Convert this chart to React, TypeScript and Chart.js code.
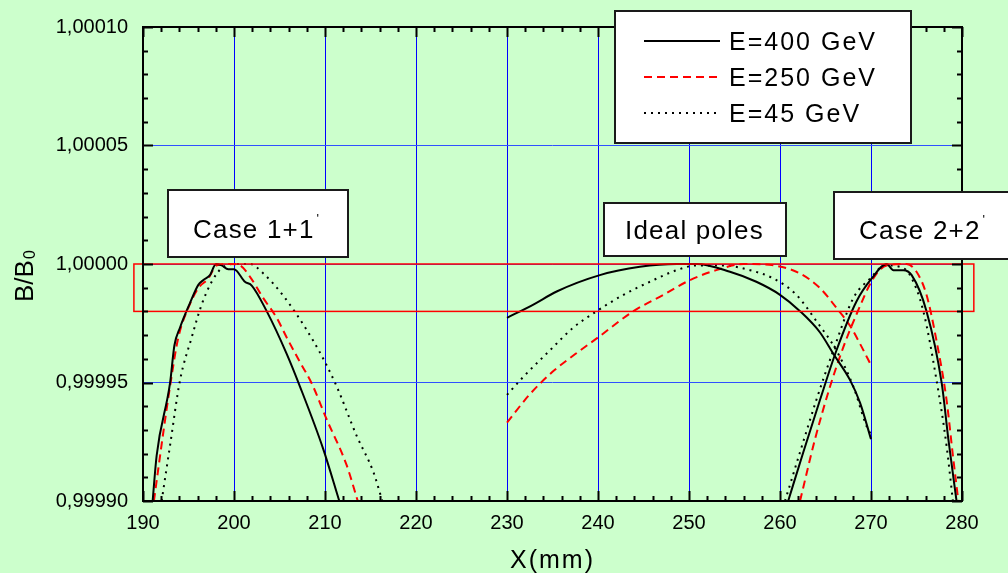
import React, { useEffect, useRef } from 'react';
import { Chart, registerables } from 'chart.js';

Chart.register(...registerables);

// ---------- axis ticks ----------
const X_TICKS = [190, 200, 210, 220, 230, 240, 250, 260, 270, 280];
const X_TICK_LABELS = ['190', '200', '210', '220', '230', '240', '250', '260', '270', '280'];
const Y_TICKS = [0.9999, 0.99995, 1.0, 1.00005, 1.0001];
const Y_TICK_LABELS = ['0,99990', '0,99995', '1,00000', '1,00005', '1,00010'];
const X_MINOR_STEP = 2;
const Y_MINOR_STEP = 0.00001;

// ---------- legend / annotation texts ----------
const SERIES_NAMES = ['E=400 GeV', 'E=250 GeV', 'E=45 GeV'];
const REGION_LABELS = ['Case 1+1', 'Ideal poles', 'Case 2+2'];
const X_TITLE = 'X(mm)';
const Y_TITLE = 'B/B';
const Y_TITLE_SUB = '0';

// tolerance band (red rectangle) in data units
const BAND_X = [189.0, 281.3];
const BAND_Y = [0.99998, 1.0];

// ---------- E = 400 GeV (solid) ----------
const E400_CASE1_X = [191.06, 191.5, 192.97, 193.45, 194.07, 195.16, 196.08, 196.63, 197.36, 198.02, 198.64, 199.37, 200.0, 201.2, 201.95, 203.59, 205.79, 207.25, 209.8, 211.57];
const E400_CASE1_Y = [0.9999, 0.9999192, 0.9999497, 0.9999656, 0.9999732, 0.9999835, 0.9999912, 0.9999932, 0.9999953, 1.0, 0.9999994, 0.9999978, 0.9999978, 0.9999925, 0.9999909, 0.9999801, 0.9999621, 0.9999483, 0.999922, 0.9999];
const E400_IDEAL_X = [230.0, 232.9, 235.46, 240.2, 244.6, 248.65, 250.85, 254.5, 257.4, 260.0, 262.2, 264.4, 265.86, 267.7, 268.8, 270.0];
const E400_IDEAL_Y = [0.9999773, 0.9999829, 0.9999884, 0.9999953, 0.9999988, 1.0, 1.0, 0.9999967, 0.9999925, 0.999987, 0.9999801, 0.9999711, 0.9999621, 0.999951, 0.9999414, 0.9999261];
const E400_CASE2_X = [260.9, 262.56, 264.4, 266.2, 268.4, 270.08, 271.73, 272.46, 273.55, 274.47, 276.1, 277.77, 278.5, 279.4];
const E400_CASE2_Y = [0.9999, 0.9999206, 0.9999427, 0.9999635, 0.9999842, 0.9999939, 1.0, 0.9999974, 0.9999974, 0.9999953, 0.9999801, 0.9999497, 0.9999261, 0.9999];

// ---------- E = 250 GeV (red dashed) ----------
const E250_CASE1_X = [191.2, 192.23, 192.97, 193.88, 194.98, 196.08, 197.18, 198.1, 199.56, 200.66, 201.76, 203.22, 204.69, 205.79, 207.25, 208.53, 210.19, 212.38, 213.6];
const E250_CASE1_Y = [0.9999, 0.9999289, 0.9999483, 0.999969, 0.9999815, 0.9999898, 0.9999939, 0.9999994, 1.0, 0.9999994, 0.9999946, 0.9999856, 0.9999773, 0.999969, 0.9999586, 0.9999497, 0.9999344, 0.9999151, 0.9999];
const E250_IDEAL_X = [230.0, 232.5, 235.0, 237.5, 240.0, 243.9, 247.2, 250.1, 253.0, 256.0, 259.3, 262.2, 264.4, 266.2, 267.7, 268.8, 270.0];
const E250_IDEAL_Y = [0.9999331, 0.999945, 0.9999545, 0.999962, 0.999969, 0.9999801, 0.999987, 0.9999932, 0.9999974, 1.0, 0.9999994, 0.999996, 0.9999898, 0.9999815, 0.9999739, 0.9999663, 0.9999573];
const E250_CASE2_X = [262.2, 263.85, 265.5, 266.96, 268.4, 270.25, 271.73, 273.9, 275.0, 276.1, 277.2, 278.3, 279.0, 279.6];
const E250_CASE2_Y = [0.9999, 0.9999261, 0.9999483, 0.9999649, 0.9999787, 0.9999939, 0.9999994, 1.0, 0.9999967, 0.999987, 0.9999676, 0.9999427, 0.9999192, 0.9999];

// ---------- E = 45 GeV (dotted) ----------
const E45_CASE1_X = [192.05, 192.97, 194.07, 195.35, 196.45, 197.55, 198.82, 200.29, 201.76, 203.22, 205.05, 206.89, 208.71, 210.0, 211.29, 213.48, 215.31, 216.3];
const E45_CASE1_Y = [0.9999, 0.9999234, 0.999951, 0.999969, 0.9999829, 0.9999925, 0.9999988, 1.0, 1.0, 0.999996, 0.9999884, 0.9999787, 0.9999676, 0.9999586, 0.9999483, 0.9999275, 0.9999123, 0.9999];
const E45_IDEAL_X = [230.0, 231.8, 234.7, 237.3, 239.86, 242.8, 245.7, 248.65, 250.85, 253.77, 256.7, 259.27, 261.8, 264.0, 266.2, 268.06, 269.5, 270.0];
const E45_IDEAL_Y = [0.9999448, 0.9999524, 0.9999635, 0.9999732, 0.9999801, 0.999987, 0.9999925, 0.9999974, 0.9999994, 0.9999994, 0.9999974, 0.9999939, 0.999987, 0.9999759, 0.9999635, 0.9999483, 0.9999317, 0.999928];
const E45_CASE2_X = [260.55, 262.2, 264.0, 265.86, 268.06, 269.9, 271.54, 273.2, 274.29, 275.75, 277.2, 278.3, 279.0];
const E45_CASE2_Y = [0.9999, 0.9999206, 0.9999427, 0.9999635, 0.9999856, 0.9999939, 0.9999994, 0.9999988, 0.9999953, 0.9999801, 0.999951, 0.9999234, 0.9999];

const FONT = '"Liberation Sans", Arial, Helvetica, sans-serif';
const BG = '#ccffcc';

type SeriesStyle = { color: string; dash: number[] };
const STYLES: SeriesStyle[] = [
  { color: '#000000', dash: [] },
  { color: '#ff0000', dash: [8, 5] },
  { color: '#000000', dash: [2, 5] },
];

function seg(xs: number[], ys: number[]) {
  return xs.map((x, i) => ({ x, y: ys[i] }));
}

function makeDataset(xs: number[], ys: number[], style: SeriesStyle) {
  return {
    data: seg(xs, ys),
    borderColor: style.color,
    borderWidth: 2,
    borderDash: style.dash,
    pointRadius: 0,
    fill: false,
    tension: 0,
    cubicInterpolationMode: 'monotone' as const,
  };
}

function drawBox(ctx: CanvasRenderingContext2D, x0: number, y0: number, x1: number, y1: number) {
  ctx.fillStyle = '#ffffff';
  ctx.fillRect(x0, y0, x1 - x0, y1 - y0);
  ctx.strokeStyle = '#1a1a1a';
  ctx.lineWidth = 2;
  ctx.setLineDash([]);
  ctx.strokeRect(x0, y0, x1 - x0, y1 - y0);
}

function drawText(ctx: CanvasRenderingContext2D, text: string, x: number, y: number, size: number, spacing: number) {
  ctx.font = `${size}px ${FONT}`;
  (ctx as any).letterSpacing = `${spacing}px`;
  ctx.fillStyle = '#000';
  ctx.textAlign = 'left';
  ctx.textBaseline = 'alphabetic';
  ctx.fillText(text, x, y);
  const w = ctx.measureText(text).width;
  (ctx as any).letterSpacing = '0px';
  return w;
}

const bgPlugin = {
  id: 'bgfill',
  beforeDraw(chart: any) {
    const { ctx, width, height } = chart;
    ctx.save();
    ctx.fillStyle = BG;
    ctx.fillRect(0, 0, width, height);
    ctx.restore();
  },
};

const overlayPlugin = {
  id: 'overlay',
  afterDatasetsDraw(chart: any) {
    const { ctx, chartArea: a } = chart;
    const xs = chart.scales.x;
    const ys = chart.scales.y;
    ctx.save();

    // red tolerance band
    const bx0 = xs.getPixelForValue(BAND_X[0]);
    const bx1 = xs.getPixelForValue(BAND_X[1]);
    const by0 = ys.getPixelForValue(BAND_Y[1]);
    const by1 = ys.getPixelForValue(BAND_Y[0]);
    ctx.strokeStyle = '#ff0000';
    ctx.lineWidth = 1.5;
    ctx.setLineDash([]);
    ctx.strokeRect(bx0, by0, bx1 - bx0, by1 - by0);

    // axis frame
    ctx.strokeStyle = '#000';
    ctx.lineWidth = 2;
    ctx.strokeRect(a.left, a.top, a.right - a.left, a.bottom - a.top);

    // inward ticks on all four sides
    ctx.beginPath();
    const xMin = X_TICKS[0];
    const xMax = X_TICKS[X_TICKS.length - 1];
    const nx = Math.round((xMax - xMin) / X_MINOR_STEP);
    for (let i = 0; i <= nx; i++) {
      const v = xMin + i * X_MINOR_STEP;
      const px = Math.round(xs.getPixelForValue(v)) + 0.5;
      const len = i % 5 === 0 ? 10 : 5;
      ctx.moveTo(px, a.bottom);
      ctx.lineTo(px, a.bottom - len);
      ctx.moveTo(px, a.top);
      ctx.lineTo(px, a.top + len);
    }
    const yMin = Y_TICKS[0];
    const yMax = Y_TICKS[Y_TICKS.length - 1];
    const ny = Math.round((yMax - yMin) / Y_MINOR_STEP);
    for (let i = 0; i <= ny; i++) {
      const v = yMin + i * Y_MINOR_STEP;
      const py = Math.round(ys.getPixelForValue(v)) + 0.5;
      const len = i % 5 === 0 ? 10 : 5;
      ctx.moveTo(a.left, py);
      ctx.lineTo(a.left + len, py);
      ctx.moveTo(a.right, py);
      ctx.lineTo(a.right - len, py);
    }
    ctx.stroke();

    // region labels
    const primeSize = 13;
    drawBox(ctx, 168, 190, 348, 257);
    let w = drawText(ctx, REGION_LABELS[0], 193, 238, 26, 1.2);
    drawText(ctx, "'", 193 + w + 2, 223, primeSize, 0);

    drawBox(ctx, 604, 203, 786, 256);
    drawText(ctx, REGION_LABELS[1], 625, 239, 26, 1.2);

    drawBox(ctx, 834, 192, 1012, 259);
    w = drawText(ctx, REGION_LABELS[2], 859, 239, 26, 1.2);
    drawText(ctx, "'", 859 + w + 2, 224, primeSize, 0);

    // legend
    drawBox(ctx, 615, 11, 911, 143);
    const rowsY = [41, 77, 113];
    const baseY = [50, 86, 122];
    SERIES_NAMES.forEach((name, i) => {
      const st = STYLES[i];
      ctx.beginPath();
      ctx.strokeStyle = st.color;
      ctx.lineWidth = 2;
      ctx.setLineDash(st.dash);
      ctx.moveTo(644, rowsY[i]);
      ctx.lineTo(720, rowsY[i]);
      ctx.stroke();
      ctx.setLineDash([]);
      drawText(ctx, name, 729, baseY[i], 25, 2);
    });

    // axis titles
    ctx.font = `25px ${FONT}`;
    (ctx as any).letterSpacing = '2px';
    ctx.textAlign = 'center';
    ctx.textBaseline = 'alphabetic';
    ctx.fillStyle = '#000';
    ctx.fillText(X_TITLE, (a.left + a.right) / 2, 568);
    (ctx as any).letterSpacing = '0px';

    ctx.save();
    ctx.translate(33, 302);
    ctx.rotate(-Math.PI / 2);
    ctx.font = `26px ${FONT}`;
    ctx.textAlign = 'left';
    ctx.fillText(Y_TITLE, 0, 0);
    const tw = ctx.measureText(Y_TITLE).width;
    ctx.font = `16px ${FONT}`;
    ctx.fillText(Y_TITLE_SUB, tw + 1, 2);
    ctx.restore();

    ctx.restore();
  },
};

export default function App() {
  const ref = useRef<HTMLCanvasElement | null>(null);

  useEffect(() => {
    document.body.style.margin = '0';
    document.body.style.background = BG;
    const canvas = ref.current;
    if (!canvas) return;

    const datasets = [
      makeDataset(E400_CASE1_X, E400_CASE1_Y, STYLES[0]),
      makeDataset(E400_IDEAL_X, E400_IDEAL_Y, STYLES[0]),
      makeDataset(E400_CASE2_X, E400_CASE2_Y, STYLES[0]),
      makeDataset(E250_CASE1_X, E250_CASE1_Y, STYLES[1]),
      makeDataset(E250_IDEAL_X, E250_IDEAL_Y, STYLES[1]),
      makeDataset(E250_CASE2_X, E250_CASE2_Y, STYLES[1]),
      makeDataset(E45_CASE1_X, E45_CASE1_Y, STYLES[2]),
      makeDataset(E45_IDEAL_X, E45_IDEAL_Y, STYLES[2]),
      makeDataset(E45_CASE2_X, E45_CASE2_Y, STYLES[2]),
    ];

    const chart = new Chart(canvas, {
      type: 'line',
      data: { datasets },
      options: {
        responsive: false,
        animation: false,
        devicePixelRatio: 1,
        layout: { padding: { top: 20, right: 46, left: 0, bottom: 0 } },
        plugins: { legend: { display: false }, tooltip: { enabled: false } },
        scales: {
          x: {
            type: 'linear',
            min: X_TICKS[0],
            max: X_TICKS[X_TICKS.length - 1],
            afterBuildTicks: (s: any) => {
              s.ticks = X_TICKS.map((v) => ({ value: v }));
            },
            afterFit: (s: any) => {
              s.height = 72;
            },
            border: { display: false },
            grid: { color: '#0000ff', lineWidth: 1, drawTicks: false },
            ticks: {
              autoSkip: false,
              maxRotation: 0,
              padding: 10,
              color: '#000',
              font: { family: FONT, size: 20 },
              callback: (_v: any, i: number) => X_TICK_LABELS[i],
            },
          },
          y: {
            type: 'linear',
            min: Y_TICKS[0],
            max: Y_TICKS[Y_TICKS.length - 1],
            afterBuildTicks: (s: any) => {
              s.ticks = Y_TICKS.map((v) => ({ value: v }));
            },
            afterFit: (s: any) => {
              s.width = 143;
            },
            border: { display: false },
            grid: { color: '#3050ff', lineWidth: 1, drawTicks: false },
            ticks: {
              autoSkip: false,
              padding: 15,
              color: '#000',
              font: { family: FONT, size: 20 },
              callback: (_v: any, i: number) => Y_TICK_LABELS[i],
            },
          },
        },
      },
      plugins: [bgPlugin, overlayPlugin],
    } as any);

    return () => chart.destroy();
  }, []);

  return (
    <div style={{ width: 1008, height: 573, background: BG }}>
      <canvas ref={ref} width={1008} height={573} style={{ display: 'block' }} />
    </div>
  );
}
